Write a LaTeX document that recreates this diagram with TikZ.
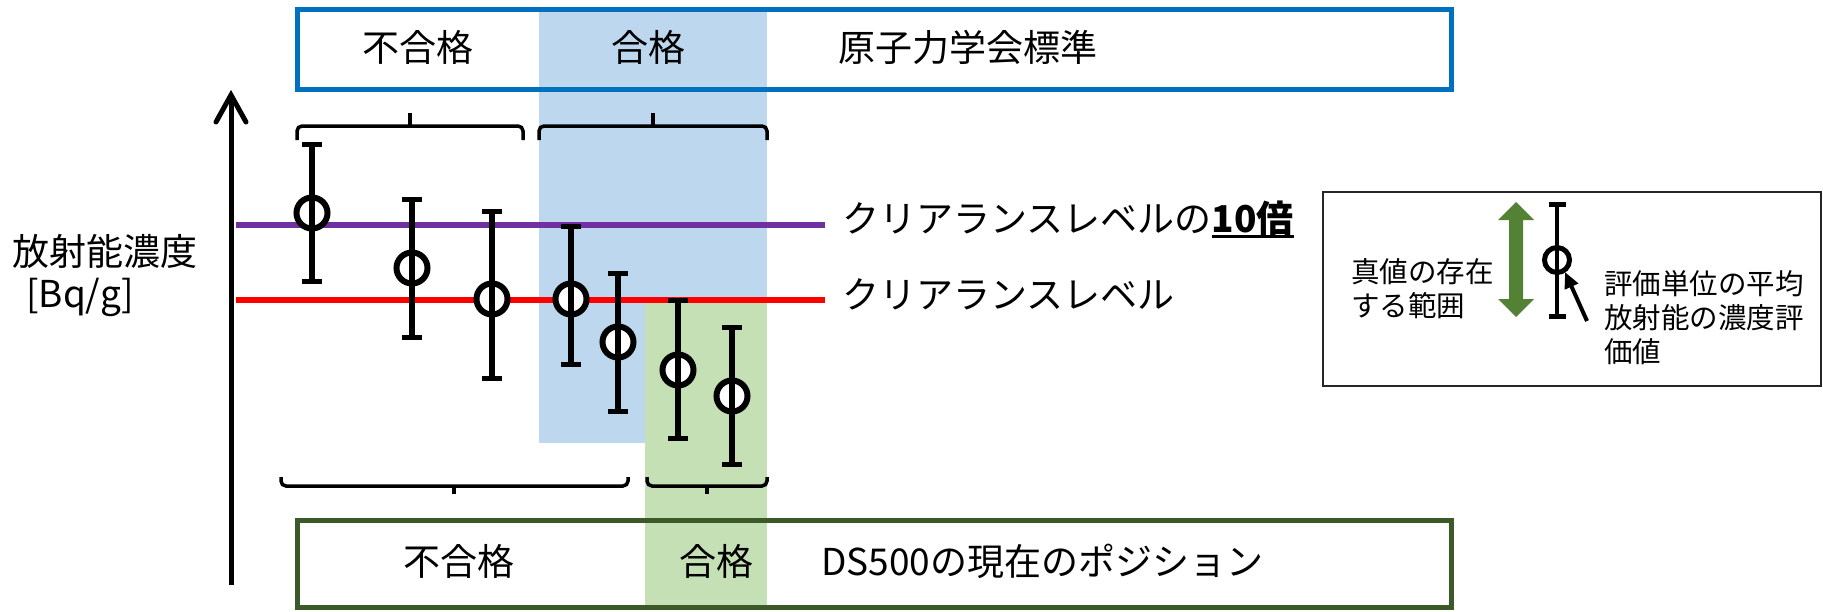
\documentclass[tikz,border=0pt]{standalone}
\usepackage{fontspec}
\setmainfont{Noto Sans CJK JP}
\usetikzlibrary{arrows.meta}
\definecolor{boxblue}{HTML}{0070C0}
\definecolor{shadeblue}{HTML}{BDD7EE}
\definecolor{shadegreen}{HTML}{C5E0B4}
\definecolor{boxgreen}{HTML}{3B5A27}
\definecolor{lvpurple}{HTML}{7030A0}
\definecolor{arrgreen}{HTML}{548235}
\definecolor{legframe}{HTML}{262626}
\begin{document}
\begin{tikzpicture}[x=1pt,y=-1pt,
  txt/.style={inner sep=0pt, font=\fontsize{37}{44}\selectfont},
  ltxt/.style={inner sep=0pt, font=\fontsize{28.5}{34}\selectfont, align=left, anchor=west},
  bar/.style={line width=5.5pt},
  capline/.style={line width=5pt},
  marker/.style={circle, draw, fill=white, line width=6pt, minimum size=31pt, inner sep=0pt},
  smallmarker/.style={circle, draw, fill=white, line width=5pt, minimum size=25pt, inner sep=0pt},
  bracepath/.style={line width=3.5pt, rounded corners=5pt},
  levelline/.style={line width=5.5pt},
]
\useasboundingbox (0,0) rectangle (1823,611);
\fill[white] (0,0) rectangle (1823,611);

% shaded regions
\fill[shadeblue] (539,9) rectangle (767,443);
\fill[shadegreen] (645,300) rectangle (767,607);

% frames
\draw[boxblue, line width=5pt] (297,9.5) rectangle (1451,89);
\draw[boxgreen, line width=5pt] (297,520) rectangle (1451,607);

% level lines
\draw[levelline, lvpurple] (236,225) -- (825,225);
\draw[levelline, red] (236,300) -- (825,300);

% braces (top)
\draw[bracepath] (297,140) -- (297,126) -- (523,126) -- (523,140);
\draw[line width=3.5pt] (410,126) -- (410,113);
\draw[bracepath] (539,140) -- (539,126) -- (767,126) -- (767,140);
\draw[line width=3.5pt] (653,126) -- (653,113);
% braces (bottom)
\draw[bracepath] (281,477) -- (281,486) -- (628,486) -- (628,477);
\draw[line width=3.5pt] (454,486) -- (454,494);
\draw[bracepath] (647,477) -- (647,486) -- (767,486) -- (767,477);
\draw[line width=3.5pt] (707,486) -- (707,494);

% error bars
\foreach \n/\x/\t/\m/\b in {b1/312/144/213/281, b2/412/199/268/337, b3/492/211/299/378,
  b4/571/226/299/364, b5/618/273/342/411, b6/678/300/370/438, b7/732/327/396/464}{
  \draw[bar] (\x,\t) -- (\x,\b);
  \draw[capline] (\x-10,\t) -- (\x+10,\t);
  \draw[capline] (\x-10,\b) -- (\x+10,\b);
  \node[marker] (\n) at (\x,\m) {};
  \draw[bar] (\n.north) -- (\n.south);
}

% axis
\draw[line width=5pt] (231,585) -- (231,97);
\draw[line width=5pt, line cap=round] (216,122) -- (231,95) -- (246,122);

% texts
\node[txt, anchor=base] (topfail) at (418,61) {不合格};
\node[txt, anchor=base] (toppass) at (648,61) {合格};
\node[txt, anchor=base] (topstd) at (968,61) {原子力学会標準};
\node[txt, anchor=base] (botfail) at (459,575) {不合格};
\node[txt, anchor=base] (botpass) at (716,575) {合格};
\node[txt, anchor=base west] (botds) at (821,575) {DS500の現在のポジション};
\node[txt, anchor=base west] (ylab) at (12,265) {放射能濃度};
\node[txt, anchor=base west] (yunit) at (26,307) {[Bq/g]};
\node[txt, anchor=base west] (cl10a) at (842,232) {クリアランスレベルの};
\node[txt, anchor=base west] (cl10b) at (cl10a.base east) {\textbf{10倍}};
\draw[line width=3pt] ([yshift=-4.5pt]cl10b.base west) -- ([yshift=-4.5pt]cl10b.base east);
\node[txt, anchor=base west] (cl) at (842,308) {クリアランスレベル};

% legend
\draw[legframe, line width=2pt] (1323,192) rectangle (1821,386);
\fill[arrgreen] (1516,202) -- (1534,220) -- (1523,220) -- (1523,299) -- (1534,299) -- (1516,317)
  -- (1498,299) -- (1509,299) -- (1509,220) -- (1498,220) -- cycle;
\draw[line width=4.5pt] (1557,204) -- (1557,316);
\draw[capline] (1548.5,204) -- (1565.5,204);
\draw[capline] (1548.5,316) -- (1565.5,316);
\node[smallmarker] (lm) at (1557,260) {};
\draw[line width=4.5pt] (lm.north) -- (lm.south);
\coordinate (lfoot) at (1587,321);
\coordinate (ltip) at (1565,272);
\draw[line width=4pt, -{Triangle[length=16pt,width=14pt]}] (lfoot) -- (ltip);
\node[ltxt] (lrange) at (1351,289) {真値の存在\\する範囲};
\node[ltxt] (lval) at (1604,318) {評価単位の平均\\放射能の濃度評\\価値};
\end{tikzpicture}
\end{document}
